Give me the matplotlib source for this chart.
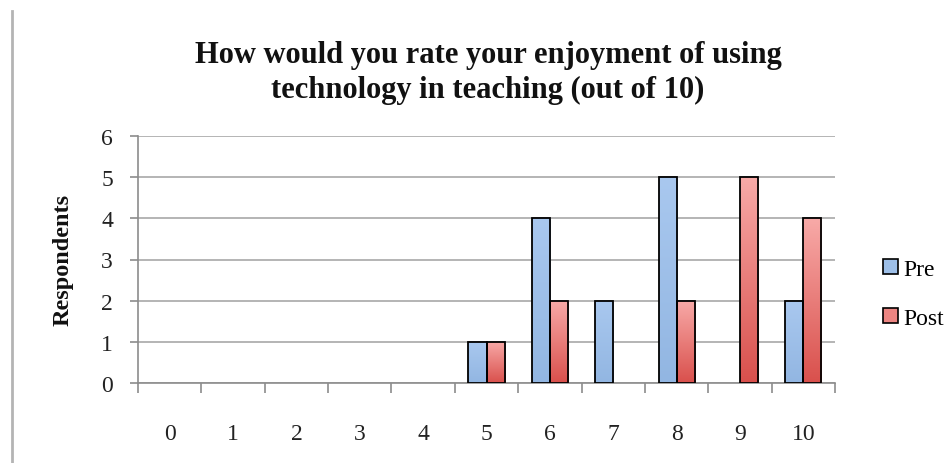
import numpy as np
import matplotlib.pyplot as plt
from matplotlib.patches import Patch
from matplotlib.lines import Line2D
from matplotlib.colors import LinearSegmentedColormap

# Data
ratings = [str(i) for i in range(11)]
pre = [0, 0, 0, 0, 0, 1, 4, 2, 5, 0, 2]
post = [0, 0, 0, 0, 0, 1, 2, 0, 2, 5, 4]

serif = ['Liberation Serif', 'DejaVu Serif']

fig = plt.figure(figsize=(9.48, 4.64), dpi=100)
fig.patch.set_facecolor('white')

# page border line on the left of the screenshot
fig.add_artist(Line2D([12 / 948, 12 / 948], [0, 1 - 12 / 464], color='#b4b4b4', lw=2,
                      transform=fig.transFigure))

ax = fig.add_axes([138 / 948, 1 - 384 / 464, (835 - 138) / 948, (384 - 137) / 464])

x = np.arange(len(ratings))
w = 0.285
bars_pre = ax.bar(x - w, pre, w, align='edge', color='#9dbfe8', edgecolor='black', lw=1.3, zorder=3)
bars_post = ax.bar(x, post, w, align='edge', color='#ec8582', edgecolor='black', lw=1.3, zorder=3)

# gradient fills like the old Excel style
cm_pre = LinearSegmentedColormap.from_list('pre', ['#92b6e2', '#a9c8ef'])
cm_post = LinearSegmentedColormap.from_list('post', ['#d9504c', '#f8aaa8'])
grad = np.linspace(0, 1, 256).reshape(-1, 1)
for bars, cm in [(bars_pre, cm_pre), (bars_post, cm_post)]:
    for b in bars:
        h = b.get_height()
        if h <= 0:
            b.set_visible(False)
            continue
        x0 = b.get_x()
        im = ax.imshow(grad, cmap=cm, origin='lower', aspect='auto',
                       extent=[x0, x0 + b.get_width(), 0, h], zorder=3.5)
        im.set_clip_path(b)
        b.set_facecolor('none')
        b.set_zorder(4)

ax.set_xlim(-0.5, 10.5)
ax.set_ylim(0, 6)
ax.set_yticks(range(7))
ax.set_xticks(x)
ax.set_xticklabels(ratings)
ax.set_xticks(np.arange(-0.5, 11, 1), minor=True)
ax.tick_params(axis='x', which='major', length=0, pad=29, labelsize=17)
ax.tick_params(axis='x', which='minor', length=7, width=1.2, color='#8c8c8c', direction='out')
ax.tick_params(axis='y', length=6, width=1.2, color='#8c8c8c', pad=12, labelsize=17)
for lab in ax.get_xticklabels() + ax.get_yticklabels():
    lab.set_family(serif)
    lab.set_color('#222222')

ax.grid(axis='y', color='#a8a8a8', lw=1.2, zorder=0)
for s in ['top', 'right']:
    ax.spines[s].set_visible(False)
for s in ['left', 'bottom']:
    ax.spines[s].set_color('#8c8c8c')
    ax.spines[s].set_linewidth(1.2)

fig.text(63 / 948, 1 - 260 / 464, 'Respondents', rotation=90, ha='center', va='center',
         fontsize=17.5, fontweight='bold', family=serif, color='#111111')

fig.text(488 / 948, 1 - 73 / 464,
         'How would you rate your enjoyment of using\ntechnology in teaching (out of 10)',
         ha='center', va='center', fontsize=22, fontweight='bold', family=serif,
         linespacing=1.25, color='#111111')

handles = [Patch(facecolor='#9dbfe8', edgecolor='black', lw=1.2, label='Pre'),
           Patch(facecolor='#ec8582', edgecolor='black', lw=1.2, label='Post')]
fig.legend(handles=handles, loc='center left', bbox_to_anchor=(874 / 948, 1 - 295 / 464),
           frameon=False, prop={'family': serif, 'size': 17}, handlelength=0.6,
           handleheight=0.6, handletextpad=0.25, labelspacing=1.2, borderaxespad=0)

fig.savefig('out.png', dpi=100)
